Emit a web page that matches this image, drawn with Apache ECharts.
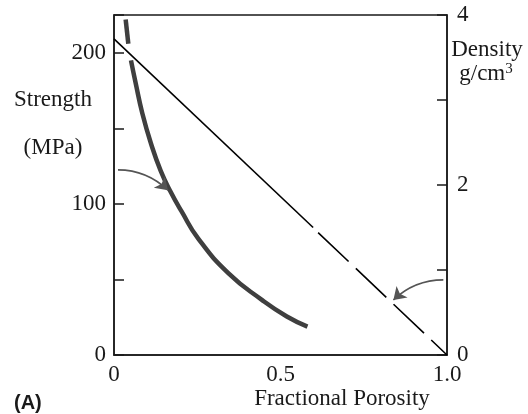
<!DOCTYPE html>
<html><head><meta charset="utf-8">
<script src="https://cdn.jsdelivr.net/npm/echarts@6/dist/echarts.min.js"></script>
<style>html,body{margin:0;padding:0;background:#fff}#c{width:528px;height:414px}</style>
</head><body><div id="c"></div>
<script>
// Data
const xTicks = [0, 0.5, 1];
const xTickLabels = ['0', '0.5', '1.0'];
const strengthTicks = {0:'0', 100:'100', 200:'200'};
const densityTicks = {0:'0', 2:'2', 4:'4'};
// strength curve (porosity, MPa) - upper short piece and main piece
const strengthTop = [[0.035, 222], [0.043, 206]];
const strengthMain = [[0.051, 195], [0.065, 180], [0.085, 160], [0.111, 140], [0.14, 122], [0.17, 108], [0.203, 95], [0.253, 77], [0.344, 54], [0.444, 36.5], [0.519, 25.5], [0.581, 18.8]];
// density line (porosity, g/cm3)
const densitySolid = [[0, 3.72], [0.598, 1.5]];
const densityDashed = [[0.613, 1.44], [1.0, 0]];
// annotation arrows (porosity, MPa)
const arrowStrength = [[0.012, 122.5], [0.162, 109]];
const arrowDensity = [[0.989, 49.7], [0.839, 36.4]];

const serif = 'Liberation Serif';
const ink = '#1a1a1a';
const fs = 23;
const chart = echarts.init(document.getElementById('c'), null, {renderer: 'canvas'});
chart.setOption({
  animation: false,
  backgroundColor: '#fff',
  grid: {left: 114, right: 81, top: 15, bottom: 59, show: true, borderColor: ink, borderWidth: 1.5, containLabel: false},
  xAxis: {
    type: 'value', min: 0, max: 1, interval: 0.5,
    axisLine: {show: true, lineStyle: {color: ink, width: 1.5}},
    axisTick: {show: false},
    splitLine: {show: false},
    axisLabel: {margin: 8, fontFamily: serif, fontSize: fs, color: ink,
      formatter: v => { const i = xTicks.findIndex(t => Math.abs(t - v) < 1e-9); return i >= 0 ? xTickLabels[i] : ''; }}
  },
  yAxis: [{
    type: 'value', min: 0, max: 225, interval: 50, position: 'left',
    axisLine: {show: true, lineStyle: {color: ink, width: 1.5}},
    axisTick: {show: true, inside: true, length: 10, lineStyle: {color: ink, width: 1.5}},
    splitLine: {show: false},
    showMaxLabel: false,
    axisLabel: {margin: 8, fontFamily: serif, fontSize: fs, color: ink,
      formatter: v => strengthTicks[v] !== undefined ? strengthTicks[v] : ''}
  }, {
    type: 'value', min: 0, max: 4, interval: 1, position: 'right',
    axisLine: {show: true, lineStyle: {color: ink, width: 1.5}},
    axisTick: {show: true, inside: true, length: 10, lineStyle: {color: ink, width: 1.5}},
    splitLine: {show: false},
    axisLabel: {margin: 10, fontFamily: serif, fontSize: fs, color: ink,
      formatter: v => densityTicks[v] !== undefined ? densityTicks[v] : ''}
  }],
  series: [
    {type: 'line', data: strengthTop, yAxisIndex: 0, smooth: false, showSymbol: false, symbol: 'none',
      lineStyle: {color: '#3f3f3f', width: 4.5, cap: 'butt'}, z: 3},
    {type: 'line', data: strengthMain, yAxisIndex: 0, smooth: 0.5, showSymbol: false, symbol: 'none',
      lineStyle: {color: '#3f3f3f', width: 4.5, cap: 'butt'}, z: 3},
    {type: 'line', data: densitySolid, yAxisIndex: 1, showSymbol: false, symbol: 'none',
      lineStyle: {color: '#000', width: 1.6}, z: 4},
    {type: 'line', data: densityDashed, yAxisIndex: 1, showSymbol: false, symbol: 'none',
      lineStyle: {color: '#000', width: 1.6, type: [42, 10]}, z: 4},
    {type: 'lines', coordinateSystem: 'cartesian2d', xAxisIndex: 0, yAxisIndex: 0,
      symbol: ['none', 'arrow'], symbolSize: 12,
      lineStyle: {color: '#555', width: 1.6, opacity: 1},
      data: [
        {coords: arrowStrength, lineStyle: {curveness: 0.2}},
        {coords: arrowDensity, lineStyle: {curveness: -0.2}}
      ], z: 5}
  ],
  graphic: [
    {type: 'text', style: {text: 'Strength', x: 53, y: 100, font: fs + 'px "Liberation Serif"', fill: ink, align: 'center', verticalAlign: 'middle'}},
    {type: 'text', style: {text: '(MPa)', x: 53, y: 148, font: fs + 'px "Liberation Serif"', fill: ink, align: 'center', verticalAlign: 'middle'}},
    {type: 'text', style: {text: 'Density', x: 487, y: 50, font: fs + 'px "Liberation Serif"', fill: ink, align: 'center', verticalAlign: 'middle'}},
    {type: 'text', style: {text: 'g/cm{s|3}', x: 486, y: 74, font: fs + 'px "Liberation Serif"', fill: ink, align: 'center', verticalAlign: 'middle',
      rich: {s: {fontFamily: serif, fontSize: 15, fill: ink, padding: [0, 0, 9, 0]}}}},
    {type: 'text', style: {text: 'Fractional Porosity', x: 342, y: 399, font: fs + 'px "Liberation Serif"', fill: ink, align: 'center', verticalAlign: 'middle'}},
    {type: 'text', style: {text: '(A)', x: 14, y: 403, font: 'bold 20px "Liberation Sans"', fill: ink, align: 'left', verticalAlign: 'middle'}}
  ]
});
</script></body></html>
